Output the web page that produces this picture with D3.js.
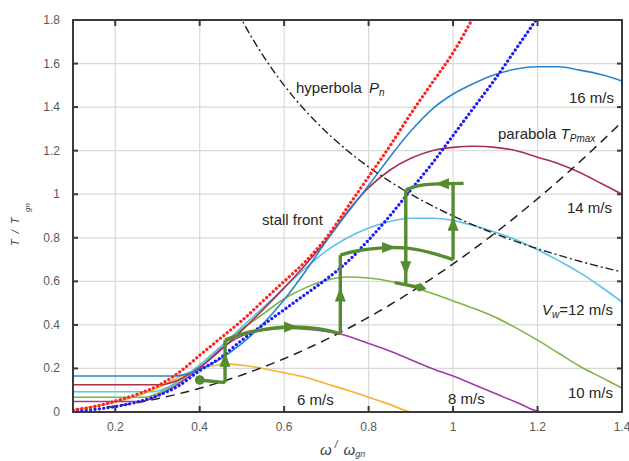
<!DOCTYPE html>
<html>
<head>
<meta charset="utf-8">
<title>Torque vs speed</title>
<script src="https://cdn.jsdelivr.net/npm/d3@7"></script>
<style>
  body { margin: 0; background: #fff; }
  svg { display: block; font-family: "Liberation Sans", Arial, sans-serif; }
  .grid line { stroke: #d9d9d9; stroke-width: 1.2; }
  .tick-label { font-size: 12px; fill: #595959; }
  .note { font-size: 15px; fill: #262626; }
</style>
</head>
<body>
<div id="chart"></div>
<script>
// axis ticks
var xTicks = [0.2, 0.4, 0.6, 0.8, 1, 1.2, 1.4];
var yTicks = [0, 0.2, 0.4, 0.6, 0.8, 1, 1.2, 1.4, 1.6, 1.8];

// torque curves per wind speed, [w/wgn, T/Tgn]
var v16 = [[0.1,0.165],[0.34,0.165],[0.37,0.175],[0.4,0.195],[0.45,0.245],[0.5,0.315],[0.55,0.405],[0.6,0.515],[0.65,0.645],[0.7,0.785],[0.75,0.915],[0.8,1.04],[0.85,1.17],[0.9,1.29],[0.95,1.39],[1.0,1.46],[1.05,1.51],[1.1,1.55],[1.15,1.575],[1.2,1.585],[1.25,1.585],[1.3,1.57],[1.35,1.55],[1.4,1.52]];
var v14 = [[0.1,0.125],[0.31,0.125],[0.34,0.14],[0.4,0.205],[0.45,0.285],[0.5,0.375],[0.55,0.47],[0.6,0.57],[0.65,0.675],[0.7,0.79],[0.75,0.92],[0.8,1.03],[0.85,1.11],[0.9,1.165],[0.95,1.2],[1.0,1.215],[1.05,1.22],[1.1,1.215],[1.15,1.2],[1.2,1.17],[1.25,1.14],[1.3,1.1],[1.35,1.05],[1.4,1.0]];
var v12 = [[0.1,0.093],[0.29,0.093],[0.32,0.11],[0.35,0.145],[0.4,0.215],[0.45,0.3],[0.5,0.39],[0.55,0.48],[0.6,0.57],[0.65,0.66],[0.7,0.74],[0.75,0.8],[0.8,0.845],[0.85,0.875],[0.9,0.89],[0.95,0.89],[1.0,0.88],[1.05,0.855],[1.1,0.825],[1.15,0.79],[1.2,0.745],[1.25,0.695],[1.3,0.64],[1.35,0.575],[1.4,0.505]];
var v10 = [[0.1,0.068],[0.27,0.068],[0.3,0.085],[0.35,0.14],[0.4,0.215],[0.45,0.3],[0.5,0.38],[0.55,0.45],[0.6,0.52],[0.65,0.57],[0.7,0.605],[0.75,0.62],[0.8,0.615],[0.85,0.6],[0.9,0.575],[0.95,0.545],[1.0,0.51],[1.05,0.475],[1.1,0.435],[1.15,0.385],[1.2,0.33],[1.25,0.27],[1.3,0.21],[1.35,0.16],[1.4,0.11]];
var v8 = [[0.1,0.048],[0.26,0.048],[0.3,0.075],[0.35,0.13],[0.4,0.2],[0.45,0.29],[0.5,0.35],[0.55,0.375],[0.6,0.385],[0.65,0.38],[0.7,0.37],[0.74,0.355],[0.8,0.315],[0.85,0.28],[0.9,0.24],[0.95,0.2],[1.0,0.165],[1.05,0.125],[1.1,0.085],[1.15,0.045],[1.21,0],[1.4,0]];
var v6 = [[0.1,0.01],[0.2,0.045],[0.3,0.11],[0.35,0.16],[0.4,0.2],[0.44,0.215],[0.47,0.22],[0.5,0.215],[0.55,0.2],[0.6,0.18],[0.65,0.16],[0.7,0.13],[0.75,0.1],[0.8,0.068],[0.85,0.035],[0.905,0],[1.4,0]];

// stall front (red dotted) and the second dotted envelope (blue)
var stallFront = [[0.1,0.01],[0.15,0.025],[0.2,0.05],[0.25,0.08],[0.3,0.12],[0.35,0.18],[0.4,0.26],[0.45,0.34],[0.5,0.42],[0.55,0.51],[0.6,0.6],[0.65,0.69],[0.7,0.8],[0.75,0.94],[0.8,1.08],[0.85,1.22],[0.9,1.37],[0.95,1.51],[1.0,1.65],[1.05,1.82]];
var blueEnv = [[0.1,0.005],[0.15,0.012],[0.2,0.025],[0.25,0.045],[0.3,0.075],[0.35,0.12],[0.4,0.19],[0.45,0.25],[0.5,0.33],[0.55,0.4],[0.6,0.47],[0.65,0.54],[0.7,0.61],[0.75,0.69],[0.8,0.79],[0.85,0.9],[0.9,1.02],[0.95,1.14],[1.0,1.27],[1.05,1.4],[1.1,1.53],[1.15,1.67],[1.2,1.81]];

// hyperbola Pn: T = hypK / w ; parabola TPmax: T = parK * w^2
var hypK = 0.9, parK = 0.68;
var hypX = d3.range(0.49, 1.401, 0.01);
var parX = d3.range(0.18, 1.401, 0.01);

// control trajectory (thick green)
var startDot = [0.4, 0.147];
var trajSegs = [
  [[0.4,0.147],[0.46,0.135]],
  [[0.46,0.135],[0.46,0.33]],
  [[0.46,0.33],[0.5,0.358],[0.55,0.378],[0.614,0.39],[0.68,0.382],[0.733,0.36]],
  [[0.733,0.36],[0.733,0.72]],
  [[0.733,0.72],[0.76,0.735],[0.8,0.748],[0.85,0.755],[0.9,0.75],[0.95,0.73],[1.0,0.70]],
  [[1.0,0.70],[1.0,1.05]],
  [[1.025,1.05],[0.97,1.048],[0.93,1.043],[0.905,1.033],[0.888,1.02]],
  [[0.888,1.02],[0.888,0.59]],
  [[0.862,0.594],[0.921,0.572]]
];
// arrow heads: x, y, heading in degrees (0 = up)
var arrows = [[0.46,0.235,0],[0.614,0.39,90],[0.733,0.535,0],[0.846,0.755,90],[1.0,0.86,0],[0.976,1.048,-90],[0.888,0.665,180]];
var endMark = [0.921, 0.572];

var width = 629, height = 461;
var margin = {top: 20, right: 7, bottom: 49, left: 73};
var iw = width - margin.left - margin.right,
    ih = height - margin.top - margin.bottom;

var svg = d3.select("#chart").append("svg")
  .attr("width", width).attr("height", height);

var x = d3.scaleLinear().domain([0.1, 1.4]).range([margin.left, margin.left + iw]);
var y = d3.scaleLinear().domain([0, 1.8]).range([margin.top + ih, margin.top]);

svg.append("clipPath").attr("id", "plot")
  .append("rect").attr("x", margin.left).attr("y", margin.top).attr("width", iw).attr("height", ih);

// grid
var grid = svg.append("g").attr("class", "grid");
grid.selectAll(".gx").data(xTicks.filter(function(d){ return d < 1.4; })).enter().append("line")
  .attr("x1", function(d){ return x(d); }).attr("x2", function(d){ return x(d); })
  .attr("y1", y(0)).attr("y2", y(1.8));
grid.selectAll(".gy").data(yTicks.filter(function(d){ return d > 0 && d < 1.8; })).enter().append("line")
  .attr("x1", x(0.1)).attr("x2", x(1.4))
  .attr("y1", function(d){ return y(d); }).attr("y2", function(d){ return y(d); });

var line = d3.line().x(function(d){ return x(d[0]); }).y(function(d){ return y(d[1]); }).curve(d3.curveMonotoneX);
var lineR = d3.line().x(function(d){ return x(d[0]); }).y(function(d){ return y(d[1]); }).curve(d3.curveCatmullRom);

var plot = svg.append("g").attr("clip-path", "url(#plot)");

var curves = [
  {d: v6, c: "#f2b42f"},
  {d: v8, c: "#9b3fa6"},
  {d: v10, c: "#7db544"},
  {d: v12, c: "#5ec2ea"},
  {d: v14, c: "#a83150"},
  {d: v16, c: "#2a86cc"}
];
curves.forEach(function(k){
  plot.append("path").attr("d", line(k.d)).attr("fill", "none")
    .attr("stroke", k.c).attr("stroke-width", 1.6);
});
// bottom run of the 8 m/s curve sits above the 6 m/s one
plot.append("path").attr("d", line(v8.filter(function(d){ return d[0] >= 1.21; })))
  .attr("fill", "none").attr("stroke", "#9b3fa6").attr("stroke-width", 1.8);

plot.append("path").attr("d", line(parX.map(function(w){ return [w, parK*w*w]; })))
  .attr("fill", "none").attr("stroke", "#222").attr("stroke-width", 1.5)
  .attr("stroke-dasharray", "9,6");
plot.append("path").attr("d", line(hypX.map(function(w){ return [w, hypK/w]; })))
  .attr("fill", "none").attr("stroke", "#222").attr("stroke-width", 1.4)
  .attr("stroke-dasharray", "8,3,2,3");

plot.append("path").attr("d", line(blueEnv)).attr("fill", "none")
  .attr("stroke", "#1c1cf5").attr("stroke-width", 3.2)
  .attr("stroke-linecap", "round").attr("stroke-dasharray", "0.1,4.3");
plot.append("path").attr("d", line(stallFront)).attr("fill", "none")
  .attr("stroke", "#ff2222").attr("stroke-width", 3.2)
  .attr("stroke-linecap", "round").attr("stroke-dasharray", "0.1,4.3");

// trajectory
var green = "#568b2f";
var traj = svg.append("g");
trajSegs.forEach(function(s){
  traj.append("path").attr("d", lineR(s)).attr("fill", "none")
    .attr("stroke", green).attr("stroke-width", 3.4).attr("stroke-linejoin", "round");
});
traj.append("circle").attr("cx", x(startDot[0])).attr("cy", y(startDot[1])).attr("r", 4.8).attr("fill", green);
traj.selectAll(".arr").data(arrows).enter().append("path")
  .attr("d", "M0,-8 L5.5,6 L-5.5,6 Z")
  .attr("fill", green)
  .attr("transform", function(d){ return "translate(" + x(d[0]) + "," + y(d[1]) + ") rotate(" + d[2] + ")"; });
traj.append("path").attr("d", "M-7,0 L0,-4.5 L7,0 L0,4.5 Z").attr("fill", green)
  .attr("transform", "translate(" + x(endMark[0]) + "," + y(endMark[1]) + ") rotate(14)");

// frame and ticks
var frame = svg.append("g");
frame.append("rect").attr("x", margin.left).attr("y", margin.top).attr("width", iw).attr("height", ih)
  .attr("fill", "none").attr("stroke", "#3a3a3a").attr("stroke-width", 2);
xTicks.filter(function(d){ return d < 1.4; }).forEach(function(d){
  frame.append("line").attr("x1", x(d)).attr("x2", x(d)).attr("y1", y(0)).attr("y2", y(0) - 6).attr("stroke", "#3a3a3a").attr("stroke-width", 2);
  frame.append("line").attr("x1", x(d)).attr("x2", x(d)).attr("y1", y(1.8)).attr("y2", y(1.8) + 6).attr("stroke", "#3a3a3a").attr("stroke-width", 2);
});
yTicks.filter(function(d){ return d > 0 && d < 1.8; }).forEach(function(d){
  frame.append("line").attr("x1", x(0.1)).attr("x2", x(0.1) + 5).attr("y1", y(d)).attr("y2", y(d)).attr("stroke", "#3a3a3a").attr("stroke-width", 2);
  frame.append("line").attr("x1", x(1.4)).attr("x2", x(1.4) - 5).attr("y1", y(d)).attr("y2", y(d)).attr("stroke", "#3a3a3a").attr("stroke-width", 2);
});

var fmt = function(d){ return String(+d.toFixed(1)); };
svg.selectAll(".yl").data(yTicks).enter().append("text")
  .attr("class", "tick-label").attr("text-anchor", "end")
  .attr("x", margin.left - 13).attr("y", function(d){ return y(d) + 4; })
  .text(fmt);
svg.selectAll(".xl").data(xTicks).enter().append("text")
  .attr("class", "tick-label").attr("text-anchor", "middle")
  .attr("x", function(d){ return x(d); }).attr("y", y(0) + 19)
  .text(fmt);

// axis titles
var yt = svg.append("text").attr("transform", "translate(19,246) rotate(-90)")
  .attr("font-size", 11).attr("font-style", "italic").attr("fill", "#404040");
yt.append("tspan").attr("letter-spacing", 1.5).text("T / T");
yt.append("tspan").attr("font-size", 8).attr("dx", 4).attr("dy", 11).text("gn");

var xt = svg.append("text").attr("x", 320).attr("y", 455)
  .attr("font-size", 15).attr("font-style", "italic").attr("fill", "#404040");
xt.append("tspan").text("ω");
xt.append("tspan").attr("font-size", 10).attr("dx", 3).attr("dy", -7).text("/");
xt.append("tspan").attr("dx", 6).attr("dy", 7).text("ω");
xt.append("tspan").attr("font-size", 9).attr("dy", 2).text("gn");

// annotations
function note(px, py, anchor) {
  return svg.append("text").attr("class", "note").attr("x", px).attr("y", py).attr("text-anchor", anchor || "start");
}
var h = note(296, 93);
h.append("tspan").text("hyperbola ");
h.append("tspan").attr("font-style", "italic").attr("dx", 3).text("P");
h.append("tspan").attr("font-style", "italic").attr("font-size", 10).attr("dy", 3).text("n");

note(614, 103, "end").text("16 m/s");

var p = note(498, 139);
p.append("tspan").text("parabola ");
p.append("tspan").attr("font-style", "italic").text("T");
p.append("tspan").attr("font-style", "italic").attr("font-size", 10).attr("dy", 3).text("Pmax");

note(612, 213, "end").text("14 m/s");
note(262, 225).text("stall front");

var vw = note(613, 315, "end");
vw.append("tspan").attr("font-style", "italic").text("V");
vw.append("tspan").attr("font-style", "italic").attr("font-size", 10).attr("dy", 3).text("w");
vw.append("tspan").attr("dy", -3).text("=12 m/s");

note(613, 398, "end").text("10 m/s");
note(448, 404).text("8 m/s");
note(297, 405).text("6 m/s");
</script>
</body>
</html>
